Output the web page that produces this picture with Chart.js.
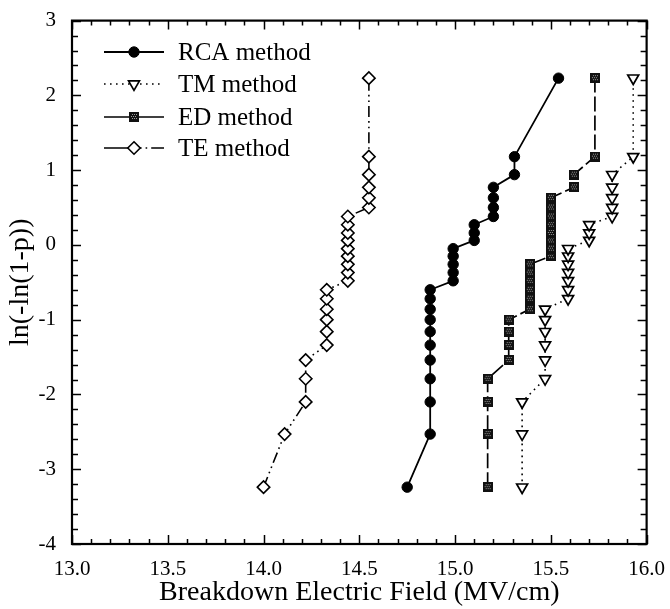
<!DOCTYPE html>
<html>
<head>
<meta charset="utf-8">
<title>Breakdown field Weibull plot</title>
<script src="https://cdn.jsdelivr.net/npm/chart.js@4.4.1/dist/chart.umd.min.js"></script>
<style>
  html, body { margin: 0; padding: 0; background: #fff; }
  #wrap { width: 670px; height: 609px; }
</style>
</head>
<body>
<div id="wrap"><canvas id="weibullChart" width="670" height="609"></canvas></div>
<script>
// ln(-ln(1-p)) rank positions, shared by all four methods
const weibullY = [-3.24, -2.53, -2.10, -1.79, -1.54, -1.34, -1.16, -1.00, -0.86, -0.72, -0.60, -0.48, -0.37,
                  -0.26, -0.15, -0.05, 0.06, 0.16, 0.27, 0.38, 0.50, 0.63, 0.77, 0.94, 1.18, 2.23];

// breakdown field (MV/cm) for each rank
const rcaField = [14.75, 14.87, 14.87, 14.87, 14.87, 14.87, 14.87, 14.87, 14.87, 14.87, 14.87,
                  14.99, 14.99, 14.99, 14.99, 14.99, 15.10, 15.10, 15.10,
                  15.20, 15.20, 15.20, 15.20, 15.31, 15.31, 15.54];
const tmField  = [15.35, 15.35, 15.35, 15.47, 15.47, 15.47, 15.47, 15.47, 15.47,
                  15.59, 15.59, 15.59, 15.59, 15.59, 15.59, 15.59, 15.70, 15.70, 15.70,
                  15.82, 15.82, 15.82, 15.82, 15.82, 15.93, 15.93];
const edField  = [15.17, 15.17, 15.17, 15.17, 15.28, 15.28, 15.28, 15.28,
                  15.39, 15.39, 15.39, 15.39, 15.39, 15.39,
                  15.50, 15.50, 15.50, 15.50, 15.50, 15.50, 15.50, 15.50,
                  15.62, 15.62, 15.73, 15.73];
const teField  = [14.00, 14.11, 14.22, 14.22, 14.22, 14.33, 14.33, 14.33, 14.33, 14.33, 14.33,
                  14.44, 14.44, 14.44, 14.44, 14.44, 14.44, 14.44, 14.44, 14.44,
                  14.55, 14.55, 14.55, 14.55, 14.55, 14.55];

const seriesNames = ['RCA method', 'TM method', 'ED method', 'TE method'];

const xTickValues = [13.0, 13.5, 14.0, 14.5, 15.0, 15.5, 16.0];
const xTickLabels = ['13.0', '13.5', '14.0', '14.5', '15.0', '15.5', '16.0'];
const yTickValues = [-4, -3, -2, -1, 0, 1, 2, 3];
const yTickLabels = ['-4', '-3', '-2', '-1', '0', '1', '2', '3'];

const serif = '"Liberation Serif", "Times New Roman", serif';

// dark textured square used for the ED points
function makeEdMarker() {
    const c = document.createElement('canvas');
    c.width = 10; c.height = 10;
    const g = c.getContext('2d');
    g.fillStyle = '#111';
    g.fillRect(0, 0, 10, 10);
    g.fillStyle = '#9a9a9a';
    for (let yy = 2; yy < 8; yy += 2) {
        for (let xx = 2 + (yy / 2) % 2; xx < 8; xx += 2) g.fillRect(xx, yy, 1, 1);
    }
    return c;
}
const edMarker = makeEdMarker();

function toPoints(xs) {
    return xs.map((v, i) => ({ x: v, y: weibullY[i] }));
}

const datasets = [
    {
        label: seriesNames[0], data: toPoints(rcaField),
        borderColor: '#000', borderWidth: 1.8, borderDash: [],
        pointStyle: 'circle', pointRadius: 5.2, pointBackgroundColor: '#000', pointBorderColor: '#000', pointBorderWidth: 1
    },
    {
        label: seriesNames[1], data: toPoints(tmField),
        borderColor: '#000', borderWidth: 1.6, borderDash: [1.6, 4.4],
        pointStyle: 'triangle', pointRotation: 180, pointRadius: 6.3,
        pointBackgroundColor: '#fff', pointBorderColor: '#000', pointBorderWidth: 1.7
    },
    {
        label: seriesNames[2], data: toPoints(edField),
        borderColor: '#000', borderWidth: 1.7, borderDash: [15, 4],
        pointStyle: edMarker, pointRadius: 5
    },
    {
        label: seriesNames[3], data: toPoints(teField),
        borderColor: '#000', borderWidth: 1.6, borderDash: [11, 4, 1.6, 4, 1.6, 4],
        pointStyle: 'rectRot', pointRadius: 6.2,
        pointBackgroundColor: '#fff', pointBorderColor: '#000', pointBorderWidth: 1.6
    }
];

// inward ticks on all four sides plus the box frame
const axisFrame = {
    id: 'axisFrame',
    afterDatasetsDraw(chart) {
        const { ctx, chartArea: a, scales: { x, y } } = chart;
        ctx.save();
        ctx.strokeStyle = '#000';
        ctx.lineWidth = 1.5;
        ctx.beginPath();
        for (let k = 0; k <= 30; k++) {
            const px = Math.round(x.getPixelForValue(13 + k * 0.1)) + 0.5;
            const len = k % 5 === 0 ? 9 : 5;
            ctx.moveTo(px, a.bottom); ctx.lineTo(px, a.bottom - len);
            ctx.moveTo(px, a.top); ctx.lineTo(px, a.top + len);
        }
        for (let k = 0; k <= 35; k++) {
            const py = Math.round(y.getPixelForValue(-4 + k * 0.2)) + 0.5;
            const len = k % 5 === 0 ? 9 : 6;
            ctx.moveTo(a.left, py); ctx.lineTo(a.left + len, py);
            ctx.moveTo(a.right, py); ctx.lineTo(a.right - len, py);
        }
        ctx.stroke();
        ctx.lineWidth = 2.2;
        ctx.strokeRect(a.left, a.top, a.right - a.left, a.bottom - a.top);
        ctx.restore();
    }
};

function drawMarker(ctx, ds, cx, cy) {
    ctx.save();
    ctx.setLineDash([]);
    if (ds.pointStyle instanceof HTMLCanvasElement) {
        ctx.drawImage(ds.pointStyle, cx - 5, cy - 5);
        ctx.restore();
        return;
    }
    const r = ds.pointRadius;
    ctx.beginPath();
    if (ds.pointStyle === 'circle') {
        ctx.arc(cx, cy, r, 0, Math.PI * 2);
    } else if (ds.pointStyle === 'triangle') {
        ctx.moveTo(cx, cy + r);
        ctx.lineTo(cx - r * Math.sin(Math.PI / 3), cy - r / 2);
        ctx.lineTo(cx + r * Math.sin(Math.PI / 3), cy - r / 2);
        ctx.closePath();
    } else {
        ctx.moveTo(cx, cy - r); ctx.lineTo(cx + r, cy);
        ctx.lineTo(cx, cy + r); ctx.lineTo(cx - r, cy);
        ctx.closePath();
    }
    ctx.fillStyle = ds.pointBackgroundColor;
    ctx.fill();
    ctx.lineWidth = ds.pointBorderWidth;
    ctx.strokeStyle = ds.pointBorderColor;
    ctx.stroke();
    ctx.restore();
}

// legend inside the plot, line sample with the marker in the middle
const legendDash = [[], [1.6, 4.4], [], [32, 4, 1.6, 4, 1.6, 4]];
const insideLegend = {
    id: 'insideLegend',
    afterDatasetsDraw(chart) {
        const ctx = chart.ctx;
        const x0 = 104, x1 = 164, textX = 178;
        const rows = [52, 84, 117, 148];
        chart.data.datasets.forEach((ds, i) => {
            const yRow = rows[i];
            ctx.save();
            ctx.strokeStyle = '#000';
            ctx.lineWidth = ds.borderWidth;
            ctx.setLineDash(legendDash[i]);
            ctx.beginPath();
            ctx.moveTo(x0, yRow); ctx.lineTo(x1, yRow);
            ctx.stroke();
            ctx.restore();
            drawMarker(ctx, ds, (x0 + x1) / 2, yRow);
            ctx.save();
            ctx.fillStyle = '#000';
            ctx.font = '25px ' + serif;
            ctx.textBaseline = 'middle';
            ctx.textAlign = 'left';
            ctx.fillText(ds.label, textX, yRow + 1);
            ctx.restore();
        });
    }
};

new Chart(document.getElementById('weibullChart'), {
    type: 'line',
    data: { datasets: datasets },
    options: {
        responsive: false,
        animation: false,
        devicePixelRatio: 1,
        layout: { padding: { top: 19, right: 20, left: 0, bottom: 0 } },
        plugins: {
            legend: { display: false },
            tooltip: { enabled: false }
        },
        elements: { line: { tension: 0, fill: false } },
        scales: {
            x: {
                type: 'linear',
                min: 13, max: 16,
                afterBuildTicks: s => { s.ticks = xTickValues.map(v => ({ value: v })); },
                afterFit: s => { s.height = 65; },
                grid: { display: false },
                border: { display: false },
                ticks: {
                    color: '#000', autoSkip: false, maxRotation: 0, padding: 5,
                    font: { family: serif, size: 21 },
                    callback: (v, i) => xTickLabels[i]
                },
                title: {
                    display: true, text: 'Breakdown Electric Field (MV/cm)', color: '#000',
                    font: { family: serif, size: 28 }, padding: { top: 0, bottom: 0 }
                }
            },
            y: {
                type: 'linear',
                min: -4, max: 3,
                afterBuildTicks: s => { s.ticks = yTickValues.map(v => ({ value: v })); },
                afterFit: s => { s.width = 72; },
                grid: { display: false },
                border: { display: false },
                ticks: {
                    color: '#000', autoSkip: false, padding: 8,
                    font: { family: serif, size: 21 },
                    callback: (v, i) => yTickLabels[i]
                },
                title: {
                    display: true, text: 'ln(-ln(1-p))', color: '#000',
                    font: { family: serif, size: 28 }, padding: { top: 4, bottom: 0 }
                }
            }
        }
    },
    plugins: [axisFrame, insideLegend]
});
</script>
</body>
</html>
